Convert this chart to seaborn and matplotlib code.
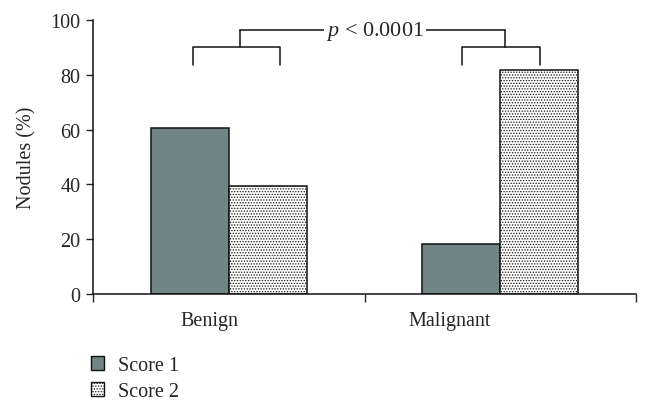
import numpy as np
import pandas as pd
import seaborn as sns
import matplotlib.pyplot as plt
from matplotlib.patches import Patch

# Valeurs
categories = ['Benign', 'Malignant']
score1 = [60.7, 18.2]
score2 = [39.3, 81.8]
series = ['Score 1', 'Score 2']

df = pd.DataFrame({
    'group': categories * 2,
    'score': [series[0]] * 2 + [series[1]] * 2,
    'value': score1 + score2,
})

sns.set_style('ticks')
plt.rcParams['font.family'] = ['Liberation Serif', 'DejaVu Serif']
plt.rcParams['mathtext.fontset'] = 'custom'
plt.rcParams['mathtext.it'] = 'Liberation Serif:italic'
plt.rcParams['mathtext.rm'] = 'Liberation Serif'
plt.rcParams['hatch.linewidth'] = 0.6
plt.rcParams['hatch.color'] = '#333333'

fig = plt.figure(figsize=(6.51, 4.10), dpi=100)
ax = fig.add_axes([93/651, 1 - 295/410, 543/651, 274/410])

col1 = '#718585'
sns.barplot(data=df, x='group', y='value', hue='score', order=categories,
            hue_order=series, palette=[col1, 'white'], width=0.574,
            edgecolor='#111111', linewidth=1.1, saturation=1, legend=False, ax=ax)

# motif pointillé pour Score 2
for bar in ax.patches[2:4]:
    bar.set_hatch('......')

ax.set_xlim(-0.5, 1.5)
ax.set_ylim(0, 100)
ax.set_yticks([0, 20, 40, 60, 80, 100])
# les étiquettes sont un peu décalées à gauche dans l'original
ax.set_xticks([-0.07, 0.815])
ax.set_xticklabels(categories)
ax.set_xticks([-0.5, 0.5, 1.5], minor=True)
ax.tick_params(axis='x', which='major', length=0, pad=12, labelsize=14.5)
ax.tick_params(axis='x', which='minor', length=6, width=1, direction='out')
ax.tick_params(axis='y', length=5, width=1, direction='out', labelsize=14.5, pad=4)
ax.set_xlabel('')
ax.set_ylabel('Nodules (%)', fontsize=14.5, labelpad=10)
for s in ['top', 'right']:
    ax.spines[s].set_visible(False)
for s in ['left', 'bottom']:
    ax.spines[s].set_linewidth(1.1)
    ax.spines[s].set_color('#111111')

# crochets de significativité
lw = 1.1
kw = dict(color='#111111', lw=lw, clip_on=False)
ax.plot([-0.132, -0.132, 0.189, 0.189], [83.6, 90.0, 90.0, 83.6], **kw)
ax.plot([0.041, 0.041], [90.0, 96.3], **kw)
ax.plot([0.859, 0.859, 1.146, 1.146], [83.6, 90.0, 90.0, 83.6], **kw)
ax.plot([1.017, 1.017], [90.0, 96.3], **kw)
ax.plot([0.041, 1.017], [96.3, 96.3], **kw)
ax.text(0.54, 96.3, '$p$ < 0.0001', ha='center', va='center', fontsize=16,
        bbox=dict(facecolor='white', edgecolor='none', pad=1.5))

handles = [Patch(facecolor=col1, edgecolor='#111111', linewidth=1.0),
           Patch(facecolor='white', edgecolor='#111111', linewidth=1.0, hatch='......')]
fig.legend(handles, series, loc='upper left', bbox_to_anchor=(83/651, 1 - 349/410),
           frameon=False, fontsize=14.5, handlelength=0.65, handleheight=0.65,
           handletextpad=0.7, labelspacing=0.35, borderaxespad=0)

fig.savefig('out.png', dpi=100)
